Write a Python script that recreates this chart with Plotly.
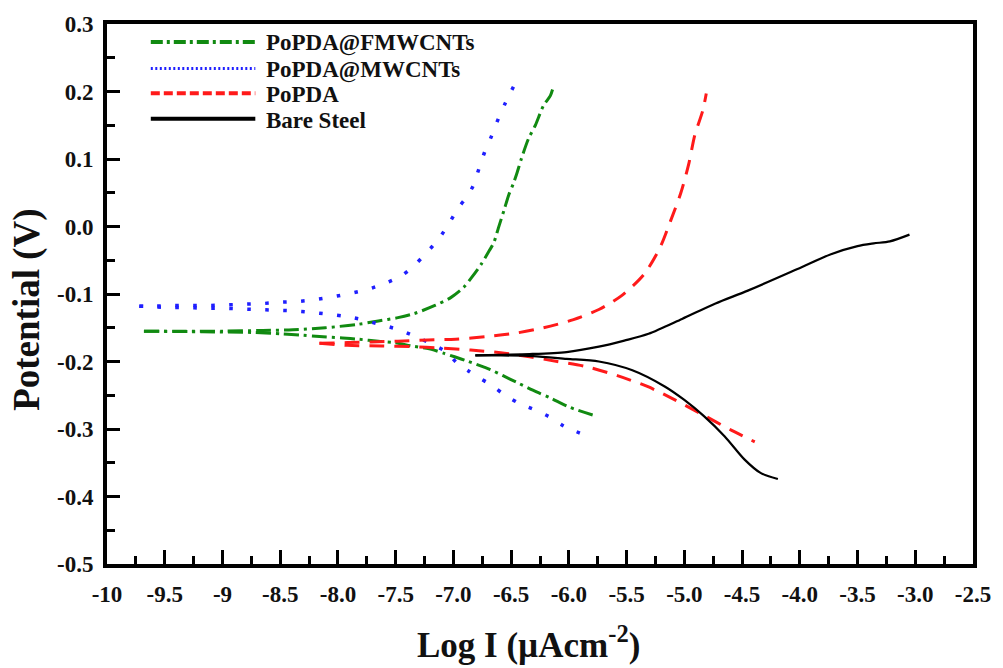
import plotly.graph_objects as go

# ---- Tafel polarisation data (log I vs potential) ----
# Each coating has an anodic branch (rising) and a cathodic branch (falling).

# PoPDA@FMWCNTs
fm_anodic_x = [-9.68, -9.34, -8.99, -8.65, -8.39, -8.11, -7.83, -7.65, -7.48, -7.34,
               -7.16, -7.02, -6.91, -6.84, -6.76, -6.69, -6.65, -6.61, -6.56, -6.52,
               -6.48, -6.45, -6.41, -6.35, -6.29, -6.22, -6.16, -6.13]
fm_anodic_y = [-0.155, -0.155, -0.155, -0.154, -0.153, -0.150, -0.145, -0.140, -0.135, -0.129,
               -0.117, -0.105, -0.090, -0.075, -0.056, -0.036, -0.024, -0.002, 0.025, 0.047,
               0.064, 0.079, 0.101, 0.130, 0.150, 0.179, 0.194, 0.210]
fm_cathodic_x = [-9.68, -9.17, -8.74, -8.48, -8.31, -8.16, -7.96, -7.82, -7.65, -7.51,
                 -7.36, -7.19, -7.08, -6.99, -6.87, -6.74, -6.68, -6.57, -6.45, -6.28,
                 -6.16, -5.99, -5.78]
fm_cathodic_y = [-0.155, -0.156, -0.157, -0.159, -0.161, -0.163, -0.165, -0.167, -0.170, -0.172,
                 -0.177, -0.182, -0.188, -0.193, -0.200, -0.208, -0.212, -0.221, -0.231, -0.245,
                 -0.254, -0.268, -0.280]

# PoPDA@MWCNTs
m_anodic_x = [-9.72, -9.58, -9.42, -9.27, -9.11, -8.95, -8.80, -8.64, -8.49, -8.34,
              -8.19, -8.04, -7.89, -7.74, -7.59, -7.45, -7.34, -7.24, -7.13, -7.04,
              -6.96, -6.88, -6.83, -6.78, -6.73, -6.67, -6.61, -6.55, -6.48]
m_anodic_y = [-0.118, -0.118, -0.117, -0.117, -0.117, -0.116, -0.115, -0.114, -0.112, -0.111,
              -0.108, -0.104, -0.099, -0.093, -0.084, -0.073, -0.058, -0.040, -0.019, 0.004,
              0.027, 0.045, 0.060, 0.085, 0.110, 0.134, 0.160, 0.183, 0.207]
m_cathodic_x = [-9.72, -9.48, -9.32, -9.17, -9.01, -8.86, -8.70, -8.55, -8.39, -8.24,
                -8.08, -7.94, -7.79, -7.64, -7.49, -7.34, -7.19, -7.06, -6.97, -6.87,
                -6.79, -6.68, -6.56, -6.43, -6.29, -6.17, -6.04, -5.89]
m_cathodic_y = [-0.118, -0.120, -0.120, -0.121, -0.121, -0.122, -0.123, -0.124, -0.125, -0.127,
                -0.130, -0.133, -0.138, -0.145, -0.152, -0.162, -0.174, -0.186, -0.202, -0.214,
                -0.223, -0.234, -0.249, -0.262, -0.272, -0.282, -0.296, -0.307]

# PoPDA
p_anodic_x = [-8.16, -7.92, -7.71, -7.48, -7.22, -6.98, -6.71, -6.46, -6.22, -5.96,
              -5.74, -5.54, -5.35, -5.21, -5.12, -5.03, -4.96, -4.91, -4.84, -4.81]
p_anodic_y = [-0.173, -0.172, -0.171, -0.170, -0.168, -0.167, -0.163, -0.158, -0.150, -0.138,
              -0.123, -0.102, -0.071, -0.031, 0.008, 0.050, 0.094, 0.135, 0.172, 0.197]
p_cathodic_x = [-8.16, -7.92, -7.62, -7.36, -7.11, -6.85, -6.59, -6.34, -6.10, -5.84,
                -5.58, -5.32, -5.09, -4.85, -4.59, -4.39]
p_cathodic_y = [-0.173, -0.176, -0.177, -0.178, -0.180, -0.183, -0.187, -0.193, -0.200, -0.208,
                -0.221, -0.237, -0.256, -0.278, -0.302, -0.319]

# Bare Steel
b_anodic_x = [-6.81, -6.59, -6.34, -6.02, -5.74, -5.52, -5.31, -5.02, -4.73, -4.45,
              -4.02, -3.73, -3.50, -3.36, -3.22, -3.05]
b_anodic_y = [-0.191, -0.190, -0.189, -0.186, -0.178, -0.169, -0.159, -0.137, -0.114, -0.095,
              -0.063, -0.041, -0.029, -0.025, -0.022, -0.012]
b_cathodic_x = [-6.81, -6.59, -6.31, -6.02, -5.74, -5.45, -5.17, -5.00, -4.83, -4.65,
                -4.48, -4.34, -4.19]
b_cathodic_y = [-0.191, -0.191, -0.192, -0.196, -0.200, -0.213, -0.237, -0.257, -0.281, -0.311,
                -0.345, -0.365, -0.374]

series_names = ["PoPDA@FMWCNTs", "PoPDA@MWCNTs", "PoPDA", "Bare Steel"]

# Axis tick labels
x_tick_vals = [-10, -9.5, -9, -8.5, -8.0, -7.5, -7.0, -6.5, -6.0, -5.5, -5.0, -4.5, -4.0, -3.5, -3.0, -2.5]
x_tick_text = ["-10", "-9.5", "-9", "-8.5", "-8.0", "-7.5", "-7.0", "-6.5", "-6.0", "-5.5",
               "-5.0", "-4.5", "-4.0", "-3.5", "-3.0", "-2.5"]
y_tick_vals = [-0.5, -0.4, -0.3, -0.2, -0.1, 0.0, 0.1, 0.2, 0.3]
y_tick_text = ["-0.5", "-0.4", "-0.3", "-0.2", "-0.1", "0.0", "0.1", "0.2", "0.3"]

# ---- styling ----
FONT = "Liberation Serif, Times New Roman, serif"
W, H = 1003, 668
L, R, T, B = 107, 26, 23, 104
PW, PH = W - L - R, H - T - B

styles = [
    dict(color="#118a11", width=3, dash="15px,5px,3px,5px"),
    dict(color="#1f1fff", width=3.5, dash="3.5px,14.5px"),
    dict(color="#ff1a1a", width=3, dash="15px,10px"),
    dict(color="#000000", width=2.2, dash="solid"),
]
legend_dash = ["12px,4px,3px,4px", "2px,2.5px", "9px,4px", "solid"]
legend_width = [4, 3, 4, 4]

branches = [
    [(fm_anodic_x, fm_anodic_y), (fm_cathodic_x, fm_cathodic_y)],
    [(m_anodic_x, m_anodic_y), (m_cathodic_x, m_cathodic_y)],
    [(p_anodic_x, p_anodic_y), (p_cathodic_x, p_cathodic_y)],
    [(b_anodic_x, b_anodic_y), (b_cathodic_x, b_cathodic_y)],
]

fig = go.Figure()
for name, style, pair in zip(series_names, styles, branches):
    for bx, by in pair:
        fig.add_trace(go.Scatter(
            x=bx, y=by, mode="lines", name=name, legendgroup=name, showlegend=False,
            line=dict(color=style["color"], width=style["width"], dash=style["dash"],
                      shape="spline", smoothing=0.8),
        ))


def px_x(p):
    return (p - L) / PW


def px_y(p):
    return (H - B - p) / PH


# Hand-drawn key in the upper-left corner
shapes = []
annotations = []
key_rows = [41, 67.5, 92.5, 118]
for i, (name, style) in enumerate(zip(series_names, styles)):
    yy = px_y(key_rows[i])
    shapes.append(dict(type="line", xref="paper", yref="paper",
                       x0=px_x(151), x1=px_x(256), y0=yy, y1=yy,
                       line=dict(color=style["color"], width=legend_width[i], dash=legend_dash[i])))
    annotations.append(dict(xref="paper", yref="paper", x=px_x(265), y=px_y(key_rows[i] + 1.5),
                            xanchor="left", yanchor="middle", showarrow=False, text=name,
                            font=dict(family=FONT, size=23, color="#111", weight="bold")))

# Axis titles
annotations.append(dict(xref="paper", yref="paper", x=px_x(530), y=px_y(643),
                        xanchor="center", yanchor="middle", showarrow=False,
                        text="Log I (µAcm<sup>-2</sup>)",
                        font=dict(family=FONT, size=35, color="#111", weight="bold")))
annotations.append(dict(xref="paper", yref="paper", x=px_x(27), y=px_y(309),
                        xanchor="center", yanchor="middle", showarrow=False, textangle=-90,
                        text="Potential (V)",
                        font=dict(family=FONT, size=37, color="#111", weight="bold")))

tickfont = dict(family=FONT, size=23, color="#111", weight="bold")

fig.update_layout(
    width=W, height=H, autosize=False,
    margin=dict(l=L, r=R, t=T, b=B, pad=0),
    paper_bgcolor="white", plot_bgcolor="white",
    showlegend=False,
    shapes=shapes, annotations=annotations,
    xaxis=dict(
        range=[-10, -2.5], tickmode="array", tickvals=x_tick_vals, ticktext=x_tick_text,
        ticks="inside", ticklen=14, tickwidth=3, tickcolor="black",
        minor=dict(ticks="inside", ticklen=8, tickwidth=3, tickcolor="black",
                   tickmode="array",
                   tickvals=[v + 0.25 for v in x_tick_vals[:-1]]),
        showline=True, linewidth=4, linecolor="black", mirror=True,
        showgrid=False, zeroline=False, tickfont=tickfont, ticklabelstandoff=6,
    ),
    yaxis=dict(
        range=[-0.5, 0.3], tickmode="array", tickvals=y_tick_vals, ticktext=y_tick_text,
        ticks="inside", ticklen=13, tickwidth=3, tickcolor="black",
        minor=dict(ticks="inside", ticklen=8, tickwidth=3, tickcolor="black",
                   tickmode="array",
                   tickvals=[round(v + 0.05, 2) for v in y_tick_vals[:-1]]),
        showline=True, linewidth=4, linecolor="black", mirror=True,
        showgrid=False, zeroline=False, tickfont=tickfont, ticklabelstandoff=5,
    ),
)

fig.write_html("out.html")
